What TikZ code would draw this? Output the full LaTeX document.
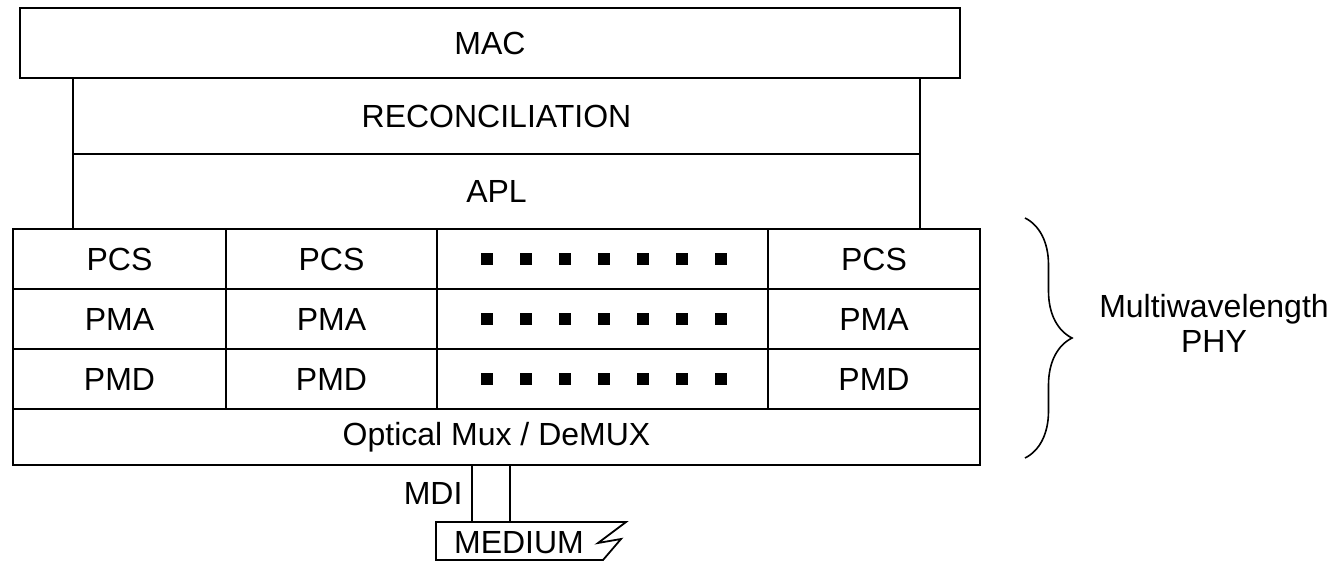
\documentclass[tikz,border=0pt]{standalone}
\usepackage{fontspec}
\setmainfont{Liberation Sans}
\usetikzlibrary{decorations.pathreplacing}

\tikzset{
    layer/.style = {draw, line width = 1.8pt, inner sep = 0pt, outer sep = 0pt,
        anchor = north west, font = \fontsize{32}{35}\selectfont},
    sublayer/.style = {layer, minimum height = 60pt},
}

\begin{document}
\begin{tikzpicture}[x = 1pt, y = -1pt]
        \useasboundingbox (0, 0) rectangle (1339, 562);
        % upper layers
        \node[layer, minimum width = 940pt, minimum height = 70pt] (mac) at (20, 8) {MAC};
        \node[layer, minimum width = 847pt, minimum height = 76pt] (rec) at (73, 78) {RECONCILIATION};
        \node[layer, minimum width = 847pt, minimum height = 75pt] (apl) at (73, 154) {APL};
        % one column per wavelength
        \foreach \lbl [count = \r] in {PCS, PMA, PMD}
            {
                \node[sublayer, minimum width = 213pt] (a\r) at (13, 169 + 60*\r) {\lbl};
                \node[sublayer, minimum width = 211pt] (b\r) at (226, 169 + 60*\r) {\lbl};
                \node[sublayer, minimum width = 331pt] (d\r) at (437, 169 + 60*\r) {};
                \node[sublayer, minimum width = 212pt] (c\r) at (768, 169 + 60*\r) {\lbl};
                \foreach \k in {0,...,6}
                    {
                        \fill (481 + 39*\k, 193 + 60*\r) rectangle ++(12, 12);
                    }
            }
        \node[layer, minimum width = 967pt, minimum height = 56pt] (mux) at (13, 409) {Optical Mux / DeMUX};
        % attachment
        \node[layer, minimum width = 38pt, minimum height = 57pt, label = {[font = \fontsize{32}{35}\selectfont, xshift = -6pt]left:MDI}] (mdi) at (472, 465) {};
        \draw[line width = 1.8pt, line join = miter] (436, 522) -- (626, 522) -- (598, 543) -- (621, 539)
            -- (603, 560) -- (436, 560) -- cycle;
        \node[font = \fontsize{32}{35}\selectfont] (medium) at (519, 543) {MEDIUM};
        % brace
        \draw[line width = 1.6pt, decorate, decoration = {brace, amplitude = 47pt}] (1025, 218) -- (1025, 458);
        \node[align = center, font = \fontsize{32}{35}\selectfont] (phy) at (1214, 323) {Multiwavelength\\PHY};
    \end{tikzpicture}
\end{document}
